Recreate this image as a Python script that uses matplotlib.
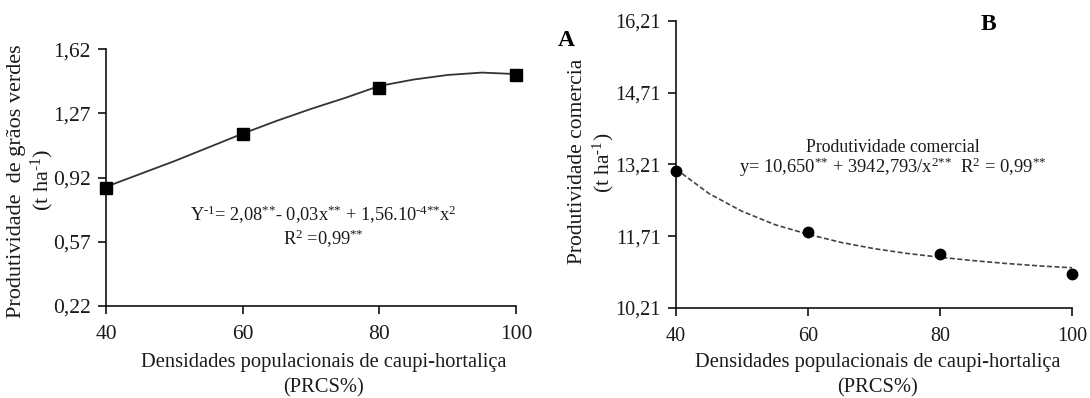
import matplotlib
matplotlib.use("Agg")
import matplotlib.pyplot as plt

plt.rcParams["font.family"] = ["Liberation Serif", "DejaVu Serif"]
plt.rcParams["mathtext.fontset"] = "custom"
plt.rcParams["mathtext.rm"] = "Liberation Serif"
plt.rcParams["mathtext.it"] = "Liberation Serif:italic"
plt.rcParams["mathtext.bf"] = "Liberation Serif:bold"

# ---- data ----
densidades = [40, 60, 80, 100]

# panel A: produtividade de grãos verdes (t/ha)
graos_obs = [0.862, 1.158, 1.407, 1.48]
graos_fit_x = [40, 45, 50, 55, 60, 65, 70, 75, 80, 85, 90, 95, 100]
graos_fit = [0.87, 0.94, 1.01, 1.085, 1.16, 1.23, 1.295, 1.355, 1.42, 1.455, 1.48, 1.493, 1.485]
ticks_a = [0.22, 0.57, 0.92, 1.27, 1.62]

# panel B: produtividade comercial (t/ha)
comercial_obs = [13.07, 11.80, 11.34, 10.91]
comercial_fit_x = [40, 45, 50, 55, 60, 65, 70, 75, 80, 85, 90, 95, 100]
comercial_fit = [13.11, 12.60, 12.23, 11.95, 11.75, 11.58, 11.45, 11.35, 11.27, 11.20, 11.14, 11.09, 11.05]
ticks_b = [10.21, 11.71, 13.21, 14.71, 16.21]

TXT = "#1a1a1a"
SS = r"$^{\text{**}}$"   # significance stars as superscript


def fmt(v):
    return f"{v:.2f}".replace(".", ",")


def style_axes(ax, yticks, size):
    for s in ("top", "right"):
        ax.spines[s].set_visible(False)
    for s in ("left", "bottom"):
        ax.spines[s].set_linewidth(1.2)
        ax.spines[s].set_color("#111111")
    ax.set_xlim(40, 100)
    ax.set_xticks(densidades)
    ax.set_xticklabels([str(d) for d in densidades])
    ax.set_ylim(yticks[0], yticks[-1])
    ax.set_yticks(yticks)
    ax.set_yticklabels([fmt(t) for t in yticks])
    ax.tick_params(direction="out", length=6, width=1.2, colors="#111111",
                   labelcolor=TXT, labelsize=size)
    ax.tick_params(axis="x", pad=8)
    ax.tick_params(axis="y", pad=5)


fig = plt.figure(figsize=(10.90, 3.98), dpi=100)

# ---- panel A ----
axA = fig.add_axes([106 / 1090, 1 - 306 / 398, 410 / 1090, (306 - 49.3) / 398])
axA.plot(graos_fit_x, graos_fit, color="#333333", lw=1.3, clip_on=False)
axA.plot(densidades, graos_obs, "s", color="black", ms=8.5, clip_on=False, zorder=5)
style_axes(axA, ticks_a, 15.5)

eqA = (r"Y$^{\text{-1}}$= 2,08" + SS + "- 0,03x" + SS + " + 1,56.10"
       + r"$^{\text{-4**}}$x$^{\text{2}}$")
axA.text(0.53, 0.355, eqA, transform=axA.transAxes, ha="center", va="center",
         fontsize=13.2, color=TXT)
axA.text(0.53, 0.26, r"R$^{\text{2}}$ =0,99" + SS, transform=axA.transAxes,
         ha="center", va="center", fontsize=13.2, color=TXT)

fig.text(17 / 1090, 1 - 181 / 398, "Produtividade  de grãos verdes", rotation=90,
         ha="center", va="center", fontsize=16, color=TXT)
fig.text(42 / 1090, 1 - 180 / 398, r"(t ha$^{\text{-1}}$)", rotation=90,
         ha="center", va="center", fontsize=16, color=TXT)
fig.text(324 / 1090, 1 - 362 / 398, "Densidades populacionais de caupi-hortaliça",
         ha="center", va="center", fontsize=14.8, color=TXT)
fig.text(324 / 1090, 1 - 388 / 398, "(PRCS%)",
         ha="center", va="center", fontsize=14.8, color=TXT)
fig.text(566 / 1090, 1 - 40 / 398, "A", ha="center", va="center",
         fontsize=17, fontweight="bold", color="black")

# ---- panel B ----
axB = fig.add_axes([676 / 1090, 1 - 308 / 398, 396 / 1090, (308 - 20.7) / 398])
axB.plot(comercial_fit_x, comercial_fit, color="#444444", lw=1.2, ls=(0, (3, 1.5)),
         clip_on=False)
axB.plot(densidades, comercial_obs, "o", color="black", ms=7.5, clip_on=False, zorder=5)
style_axes(axB, ticks_b, 14.5)

fig.text(893 / 1090, 1 - 147 / 398, "Produtividade comercial",
         ha="center", va="center", fontsize=12.8, color=TXT)
eqB = ("y= 10,650" + SS + " + 3942,793/x" + r"$^{\text{2**}}$" + "  R"
       + r"$^{\text{2}}$" + " = 0,99" + SS)
fig.text(893 / 1090, 1 - 167 / 398, eqB,
         ha="center", va="center", fontsize=13.3, color=TXT)

fig.text(577 / 1090, 1 - 161 / 398, "Produtividade comercia", rotation=90,
         ha="center", va="center", fontsize=15.5, color=TXT)
fig.text(603 / 1090, 1 - 163 / 398, r"(t ha$^{\text{-1}}$)", rotation=90,
         ha="center", va="center", fontsize=15.5, color=TXT)
fig.text(878 / 1090, 1 - 362 / 398, "Densidades populacionais de caupi-hortaliça",
         ha="center", va="center", fontsize=14.8, color=TXT)
fig.text(878 / 1090, 1 - 388 / 398, "(PRCS%)",
         ha="center", va="center", fontsize=14.8, color=TXT)
fig.text(988 / 1090, 1 - 25 / 398, "B", ha="center", va="center",
         fontsize=17, fontweight="bold", color="black")

fig.savefig("out.png", dpi=100)
